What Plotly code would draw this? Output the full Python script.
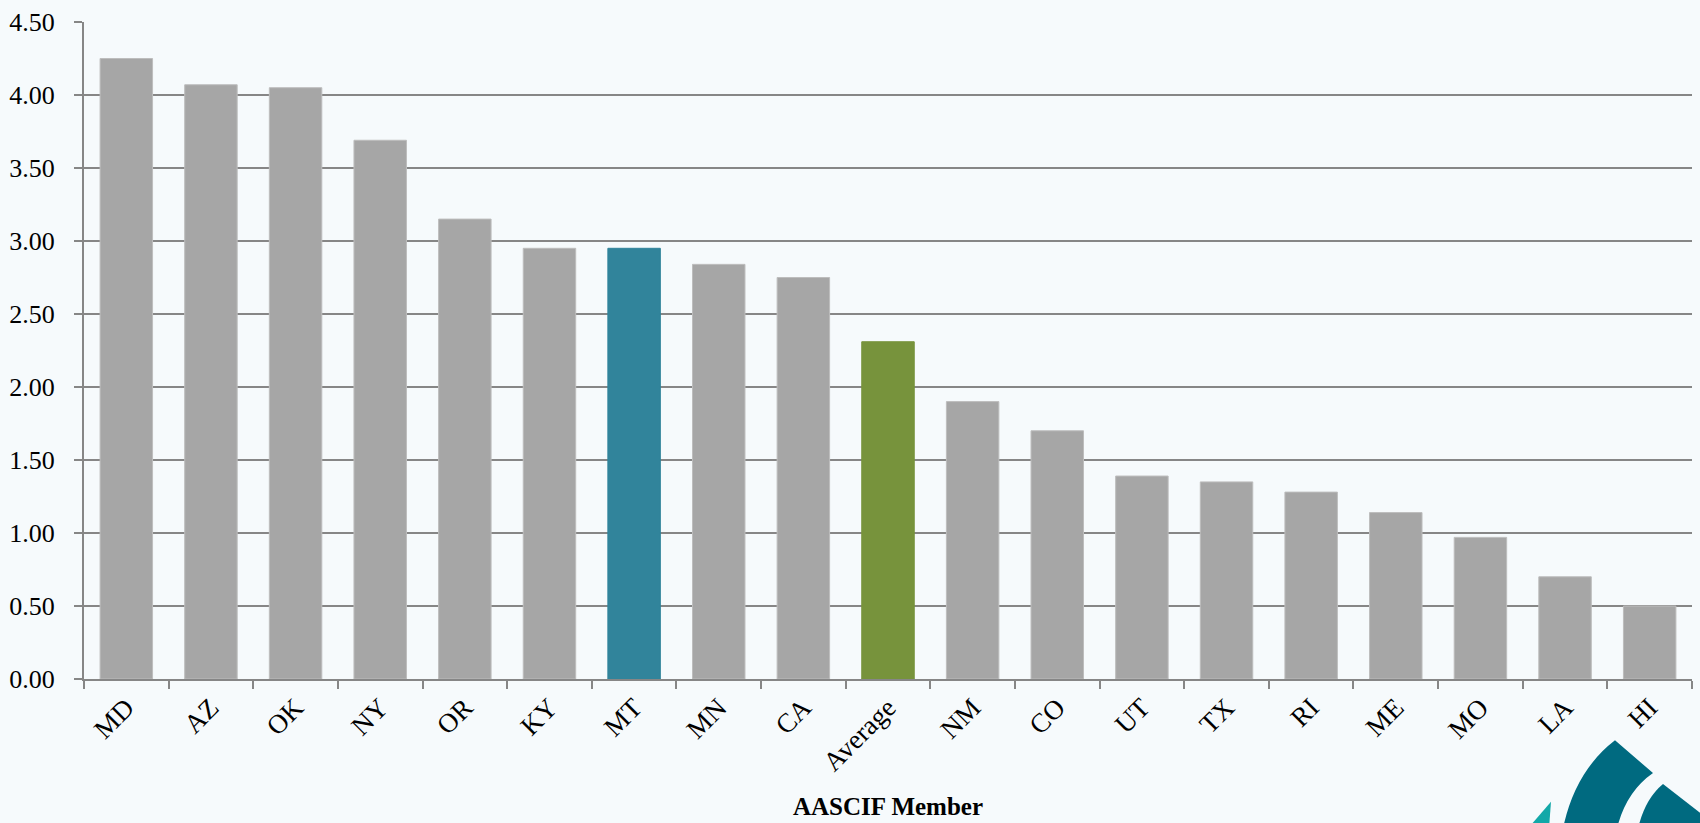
import plotly.graph_objects as go

categories = ["MD", "AZ", "OK", "NY", "OR", "KY", "MT", "MN", "CA", "Average",
              "NM", "CO", "UT", "TX", "RI", "ME", "MO", "LA", "HI"]
values = [4.25, 4.07, 4.05, 3.69, 3.15, 2.95, 2.95, 2.84, 2.75, 2.31,
          1.90, 1.70, 1.39, 1.35, 1.28, 1.14, 0.97, 0.70, 0.50]
y_ticks = [0.0, 0.5, 1.0, 1.5, 2.0, 2.5, 3.0, 3.5, 4.0, 4.5]
x_title = "AASCIF Member"

GRAY = "#A6A6A6"
HIGHLIGHT = {"MT": "#31849B", "Average": "#77933C"}
colors = [HIGHLIGHT.get(c, GRAY) for c in categories]
edges = ["#31849B" if c == "MT" else "#77933C" if c == "Average" else "#BDBDBD" for c in categories]

W, H = 1700, 823
ML, MR, MT_, MB = 84, 8, 15, 144
PW, PH = W - ML - MR, H - MT_ - MB


def px(x, y):
    return (x - ML) / PW, (H - MB - y) / PH


def path(points_cmds):
    out = []
    for cmd, pts in points_cmds:
        coords = []
        for (x, y) in pts:
            a, b = px(x, y)
            coords.append(f"{a:.5f},{b:.5f}")
        out.append(cmd + " " + " ".join(coords))
    return " ".join(out) + " Z"


fig = go.Figure(go.Bar(
    x=categories, y=values,
    marker=dict(color=colors, line=dict(color=edges, width=1)),
    width=0.62,
))

shapes = [
    dict(type="path", xref="paper", yref="paper", layer="above",
         path=path([("M", [(1615, 741)]), ("L", [(1653, 774)]),
                    ("Q", [(1626, 793), (1617, 830)]), ("L", [(1563, 830)]),
                    ("Q", [(1575, 772), (1615, 741)])]),
         fillcolor="#006A80", line=dict(width=0)),
    dict(type="path", xref="paper", yref="paper", layer="above",
         path=path([("M", [(1663, 785)]), ("L", [(1705, 818)]),
                    ("L", [(1705, 830)]), ("L", [(1638, 830)]),
                    ("Q", [(1645, 800), (1663, 785)])]),
         fillcolor="#006A80", line=dict(width=0)),
    dict(type="path", xref="paper", yref="paper", layer="above",
         path=path([("M", [(1551, 803)]), ("L", [(1549, 830)]), ("L", [(1528, 830)])]),
         fillcolor="#12A8A8", line=dict(width=0)),
]

tx, ty = px(888, 808)

fig.update_layout(
    width=W, height=H,
    margin=dict(l=ML, r=MR, t=MT_, b=MB),
    paper_bgcolor="#F6FAFC", plot_bgcolor="rgba(0,0,0,0)",
    showlegend=False,
    font=dict(family="Liberation Serif, serif", color="#000000"),
    shapes=shapes,
    annotations=[dict(text=f"<b>{x_title}</b>", xref="paper", yref="paper",
                      x=0.5, y=ty, xanchor="center", yanchor="middle", showarrow=False,
                      font=dict(size=25, family="Liberation Serif, serif", color="#000"))],
    bargap=0.38,
)
fig.update_xaxes(
    type="category", tickson="boundaries",
    ticks="outside", ticklen=8, tickwidth=2, tickcolor="#868686",
    showline=True, linecolor="#868686", linewidth=2,
    showgrid=False, tickangle=-45,
    tickfont=dict(size=27, family="Liberation Serif, serif"),
)
fig.update_yaxes(
    range=[0, 4.5], tickvals=y_ticks, ticktext=[f"{v:.2f}" for v in y_ticks],
    ticks="outside", ticklen=8, tickwidth=2, tickcolor="#868686",
    showline=True, linecolor="#868686", linewidth=2,
    showgrid=True, gridcolor="#868686", gridwidth=2,
    zeroline=False,
    tickfont=dict(size=26, family="Liberation Serif, serif"),
    ticklabelstandoff=14,
)

fig.write_html("out.html")
